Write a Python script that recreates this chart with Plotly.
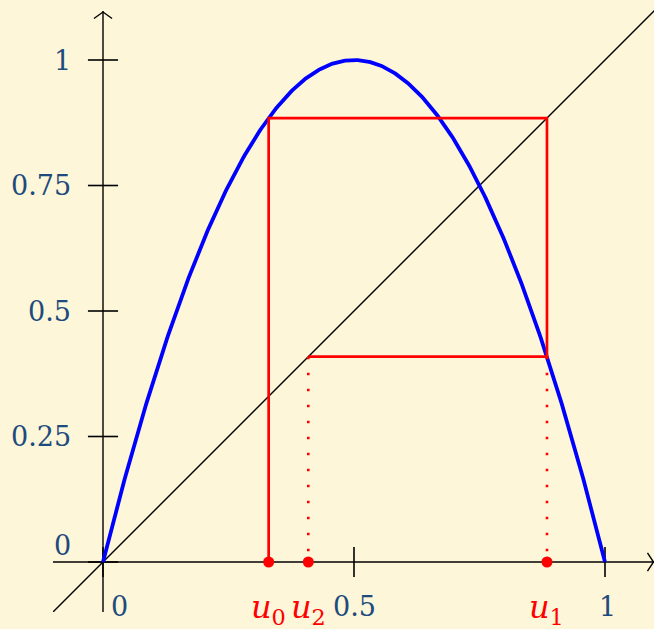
import numpy as np
import plotly.graph_objects as go

# Logistic map f(x) = r x (1 - x) and its cobweb starting at u0
r = 4.0
u0 = 0.33
x_ticks = [0.5, 1]
x_tick_labels = ["0.5", "1"]
y_ticks = [0.25, 0.5, 0.75, 1]
y_tick_labels = ["0.25", "0.5", "0.75", "1"]


def f(x):
    return r * x * (1 - x)


u1 = f(u0)
u2 = f(u1)

BG = "#fdf6d8"
LABEL = "#1d4b7d"
RED = "#ff0000"
FONT = "DejaVu Serif"

X_RANGE = [-0.0996, 1.0976]
Y_RANGE = [-0.0996, 1.0996]
TICK = 0.03

fig = go.Figure()


def seg(xs, ys, color="black", width=1.4, dash=None):
    fig.add_trace(go.Scatter(x=xs, y=ys, mode="lines", hoverinfo="skip",
                             line=dict(color=color, width=width, dash=dash)))


# axes with open arrow heads
seg([X_RANGE[0], X_RANGE[1]], [0, 0])
seg([0, 0], [Y_RANGE[0], Y_RANGE[1] - 0.002])
ah_back, ah_half = 0.013, 0.018
seg([X_RANGE[1] - ah_back, X_RANGE[1] - 0.001, X_RANGE[1] - ah_back],
    [ah_half, 0, -ah_half])
seg([-ah_half, 0, ah_half],
    [Y_RANGE[1] - 0.004 - ah_back, Y_RANGE[1] - 0.004, Y_RANGE[1] - 0.004 - ah_back])

# ticks
for t in [0] + x_ticks:
    seg([t, t], [-TICK, TICK], width=1.6)
for t in [0] + y_ticks:
    seg([-TICK, TICK], [t, t], width=1.6)

# diagonal y = x
seg([-0.12, 1.12], [-0.12, 1.12], width=1.4)

# the parabola
xs = np.linspace(0, 1, 401)
seg(xs, f(xs), color="#0000ff", width=3.8)

# cobweb
seg([u0, u0, u1, u1, u2], [0, u1, u1, u2, u2], color=RED, width=2.7)
seg([u1, u1], [u2, 0], color=RED, width=2.6, dash="2.6px,13.4px")
seg([u2, u2], [u2, 0], color=RED, width=2.6, dash="2.6px,13.4px")
fig.add_trace(go.Scatter(x=[u0, u2, u1], y=[0, 0, 0], mode="markers",
                         hoverinfo="skip",
                         marker=dict(color=RED, size=11, line=dict(width=0))))

ann = []
for t, s in zip(y_ticks, y_tick_labels):
    ann.append(dict(x=0, y=t, text=s, xanchor="right", yanchor="middle",
                    xshift=-30, font=dict(color=LABEL, size=27, family=FONT)))
ann.append(dict(x=0, y=0, text="0", xanchor="right", yanchor="middle",
                xshift=-30, yshift=17, font=dict(color=LABEL, size=27, family=FONT)))
ann.append(dict(x=0, y=0, text="0", xanchor="center", yanchor="middle",
                xshift=16, yshift=-44, font=dict(color=LABEL, size=27, family=FONT)))
for t, s in zip(x_ticks, x_tick_labels):
    ann.append(dict(x=t, y=0, text=s, xanchor="center", yanchor="middle",
                    xshift=2 if s == "1" else 0, yshift=-44,
                    font=dict(color=LABEL, size=27, family=FONT)))
for u, k in [(u0, 0), (u2, 2), (u1, 1)]:
    ann.append(dict(x=u, y=0, text=f"<i>u</i><sub>{k}</sub>", xanchor="center",
                    yanchor="middle", yshift=-47,
                    font=dict(color=RED, size=32, family=FONT)))
for a in ann:
    a.update(showarrow=False, xref="x", yref="y")

fig.update_layout(
    width=654, height=629,
    margin=dict(l=53, r=0, t=10, b=17),
    paper_bgcolor=BG, plot_bgcolor=BG,
    showlegend=False,
    xaxis=dict(range=X_RANGE, visible=False, fixedrange=True),
    yaxis=dict(range=Y_RANGE, visible=False, fixedrange=True),
    annotations=ann,
)

fig.write_html("out.html")
